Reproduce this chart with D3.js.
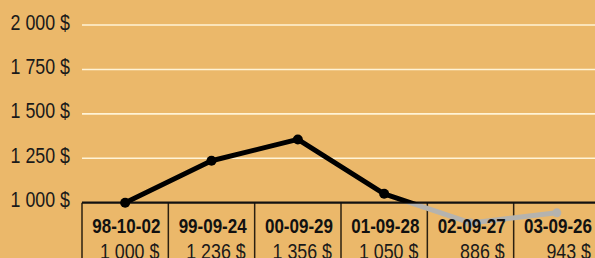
<!DOCTYPE html>
<html>
<head>
<meta charset="utf-8">
<script src="https://cdn.jsdelivr.net/npm/d3@7"></script>
<style>
  html, body { margin: 0; padding: 0; background: #ebb86a; overflow: hidden; }
  text { font-family: "Liberation Sans", Arial, sans-serif; }
</style>
</head>
<body>
<div id="chart"></div>
<script>
// data
var dates = ["98-10-02", "99-09-24", "00-09-29", "01-09-28", "02-09-27", "03-09-26"];
var values = [1000, 1236, 1356, 1050, 886, 943];
var yTicks = [1000, 1250, 1500, 1750, 2000];
var baseValue = 1000;

var svgWidth = 595;
var svgHeight = 258;
var plotLeft = 82;
var plotRight = 600;
var narrow = 0.81; // the original font is a condensed one

function money(v) {
  return d3.format(",")(v).replace(/,/g, " ") + " $";
}

var svg = d3.select("#chart")
  .append("svg")
  .attr("width", svgWidth)
  .attr("height", svgHeight);

svg.append("rect")
  .attr("width", svgWidth)
  .attr("height", svgHeight)
  .attr("fill", "#ebb86a");

var xBand = d3.scaleBand()
  .domain(dates)
  .range([plotLeft, plotRight])
  .padding(0);

var yScale = d3.scaleLinear()
  .domain([1000, 2000])
  .range([202.7, 25]);

var axisY = yScale(baseValue);

// gridlines
svg.append("g")
  .selectAll("line")
  .data(yTicks.filter(d => d !== baseValue))
  .enter()
  .append("line")
  .attr("x1", plotLeft)
  .attr("x2", svgWidth)
  .attr("y1", d => yScale(d))
  .attr("y2", d => yScale(d))
  .attr("stroke", "#fff3d6")
  .attr("stroke-width", 1.6);

// y labels
svg.append("g")
  .selectAll("text")
  .data(yTicks)
  .enter()
  .append("text")
  .attr("transform", d => `translate(70, ${yScale(d) + 4.5}) scale(${narrow}, 1)`)
  .attr("text-anchor", "end")
  .attr("font-size", 22)
  .attr("fill", "#1a1a1a")
  .text(d => money(d));

// table separators
svg.append("g")
  .selectAll("line")
  .data(dates)
  .enter()
  .append("line")
  .attr("x1", d => xBand(d))
  .attr("x2", d => xBand(d))
  .attr("y1", axisY)
  .attr("y2", svgHeight)
  .attr("stroke", "#2b2010")
  .attr("stroke-width", 1.5);

// clip areas: above and below the base value
var defs = svg.append("defs");
defs.append("clipPath").attr("id", "above")
  .append("rect").attr("x", 0).attr("y", 0).attr("width", svgWidth).attr("height", axisY);
defs.append("clipPath").attr("id", "below")
  .append("rect").attr("x", 0).attr("y", axisY).attr("width", svgWidth).attr("height", svgHeight - axisY);

var pts = dates.map((d, i) => [xBand(d) + xBand.bandwidth() / 2, yScale(values[i])]);
var line = d3.line();

// gray part (below base)
var below = svg.append("g").attr("clip-path", "url(#below)");
below.append("path")
  .attr("d", line(pts))
  .attr("fill", "none")
  .attr("stroke", "#b5b3ae")
  .attr("stroke-width", 5)
  .attr("stroke-linejoin", "round")
  .attr("stroke-linecap", "round");
below.selectAll("circle")
  .data(pts)
  .enter()
  .append("circle")
  .attr("cx", d => d[0])
  .attr("cy", d => d[1])
  .attr("r", 4.5)
  .attr("fill", "#b5b3ae");

// table text
var labels = svg.append("g");
labels.selectAll("text.date")
  .data(dates)
  .enter()
  .append("text")
  .attr("class", "date")
  .attr("transform", d => `translate(${xBand(d) + xBand.bandwidth() - 8}, 233) scale(${narrow}, 1)`)
  .attr("text-anchor", "end")
  .attr("font-size", 21)
  .attr("font-weight", "bold")
  .attr("fill", "#111")
  .text(d => d);
labels.selectAll("text.val")
  .data(dates)
  .enter()
  .append("text")
  .attr("class", "val")
  .attr("transform", d => `translate(${xBand(d) + xBand.bandwidth() - 9}, 259) scale(${narrow}, 1)`)
  .attr("text-anchor", "end")
  .attr("font-size", 22)
  .attr("fill", "#1a1a1a")
  .text((d, i) => money(values[i]));

// axis line
svg.append("line")
  .attr("x1", plotLeft)
  .attr("x2", svgWidth)
  .attr("y1", axisY)
  .attr("y2", axisY)
  .attr("stroke", "#111")
  .attr("stroke-width", 2.2);

// black part (above base)
var above = svg.append("g").attr("clip-path", "url(#above)");
above.append("path")
  .attr("d", line(pts))
  .attr("fill", "none")
  .attr("stroke", "#000")
  .attr("stroke-width", 5)
  .attr("stroke-linejoin", "round")
  .attr("stroke-linecap", "round");
svg.append("g")
  .selectAll("circle")
  .data(pts.filter((p, i) => values[i] >= baseValue))
  .enter()
  .append("circle")
  .attr("cx", d => d[0])
  .attr("cy", d => d[1])
  .attr("r", 5)
  .attr("fill", "#000");
</script>
</body>
</html>
